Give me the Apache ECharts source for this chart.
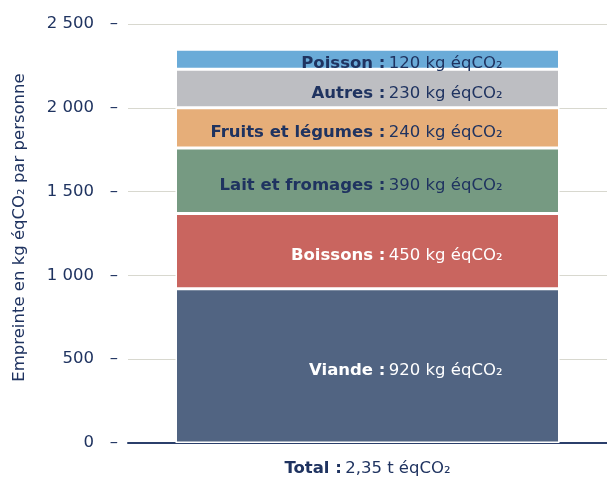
<!DOCTYPE html>
<html>
<head>
<meta charset="utf-8">
<script src="https://cdn.jsdelivr.net/npm/echarts@6/dist/echarts.min.js"></script>
<style>
    html, body { margin: 0; padding: 0; background: #fff; }
    #app { width: 607px; height: 477px; }
</style>
</head>
<body>
<div id="app"></div>
<script>
// 数据
const categories = ["Viande", "Boissons", "Lait et fromages", "Fruits et légumes", "Autres", "Poisson"];
const values = [920, 450, 390, 240, 230, 120];
const totalLabel = "2,35 t éqCO₂";
const yTicks = [0, 500, 1000, 1500, 2000, 2500];

// 样式
const palette = ["#516482", "#c9655f", "#769a82", "#e6ae79", "#bdbec2", "#6aabd8"];
const navy = "#1f3360";
const textColors = ["#fff", "#fff", navy, navy, navy, navy];
const font = "'DejaVu Sans', sans-serif";
const fs = 16.5;

// 刻度标签：千位空格 + 短横
let formatTick = (v) => {
    let s = String(v);
    if (s.length > 3) s = s.slice(0, -3) + " " + s.slice(-3);
    return s + "   –";
};

let myChart = echarts.init(document.querySelector("#app"));

let series = categories.map((name, i) => ({
    name: name,
    type: "bar",
    stack: "total",
    barWidth: 384,
    data: [values[i]],
    itemStyle: {
        color: palette[i],
        borderColor: "#fff",
        borderWidth: 1.5
    },
    label: {
        show: true,
        position: "insideRight",
        distance: 57,
        offset: [0, 5],
        formatter: "{b|" + name + " :} {v|" + values[i] + " kg éqCO₂}",
        rich: {
            b: { fontFamily: font, fontWeight: "bold", fontSize: fs, color: textColors[i] },
            v: { fontFamily: font, fontSize: fs, color: textColors[i] }
        }
    }
}));

myChart.setOption({
    animation: false,
    grid: { left: 128, right: 0, top: 24, bottom: 34, containLabel: false },
    xAxis: {
        type: "category",
        data: ["Total"],
        axisLine: { lineStyle: { color: "#2b3f6b", width: 2 } },
        axisTick: { show: false },
        axisLabel: {
            margin: 17,
            formatter: () => "{b|Total :} {v|" + totalLabel + "}",
            rich: {
                b: { fontFamily: font, fontWeight: "bold", fontSize: fs, color: navy },
                v: { fontFamily: font, fontSize: fs, color: navy }
            }
        }
    },
    yAxis: {
        type: "value",
        min: yTicks[0],
        max: yTicks[yTicks.length - 1],
        interval: 500,
        name: "Empreinte en kg éqCO₂ par personne",
        nameLocation: "middle",
        nameGap: 100,
        nameTextStyle: { fontFamily: font, fontSize: fs, color: navy, padding: [0, 0, 0, 12] },
        axisLine: { show: false },
        axisTick: { show: false },
        axisLabel: {
            margin: 10,
            fontFamily: font,
            fontSize: fs,
            color: navy,
            formatter: formatTick
        },
        splitLine: { lineStyle: { color: "#d8d8cf", width: 1 } }
    },
    series: series
});
</script>
</body>
</html>
